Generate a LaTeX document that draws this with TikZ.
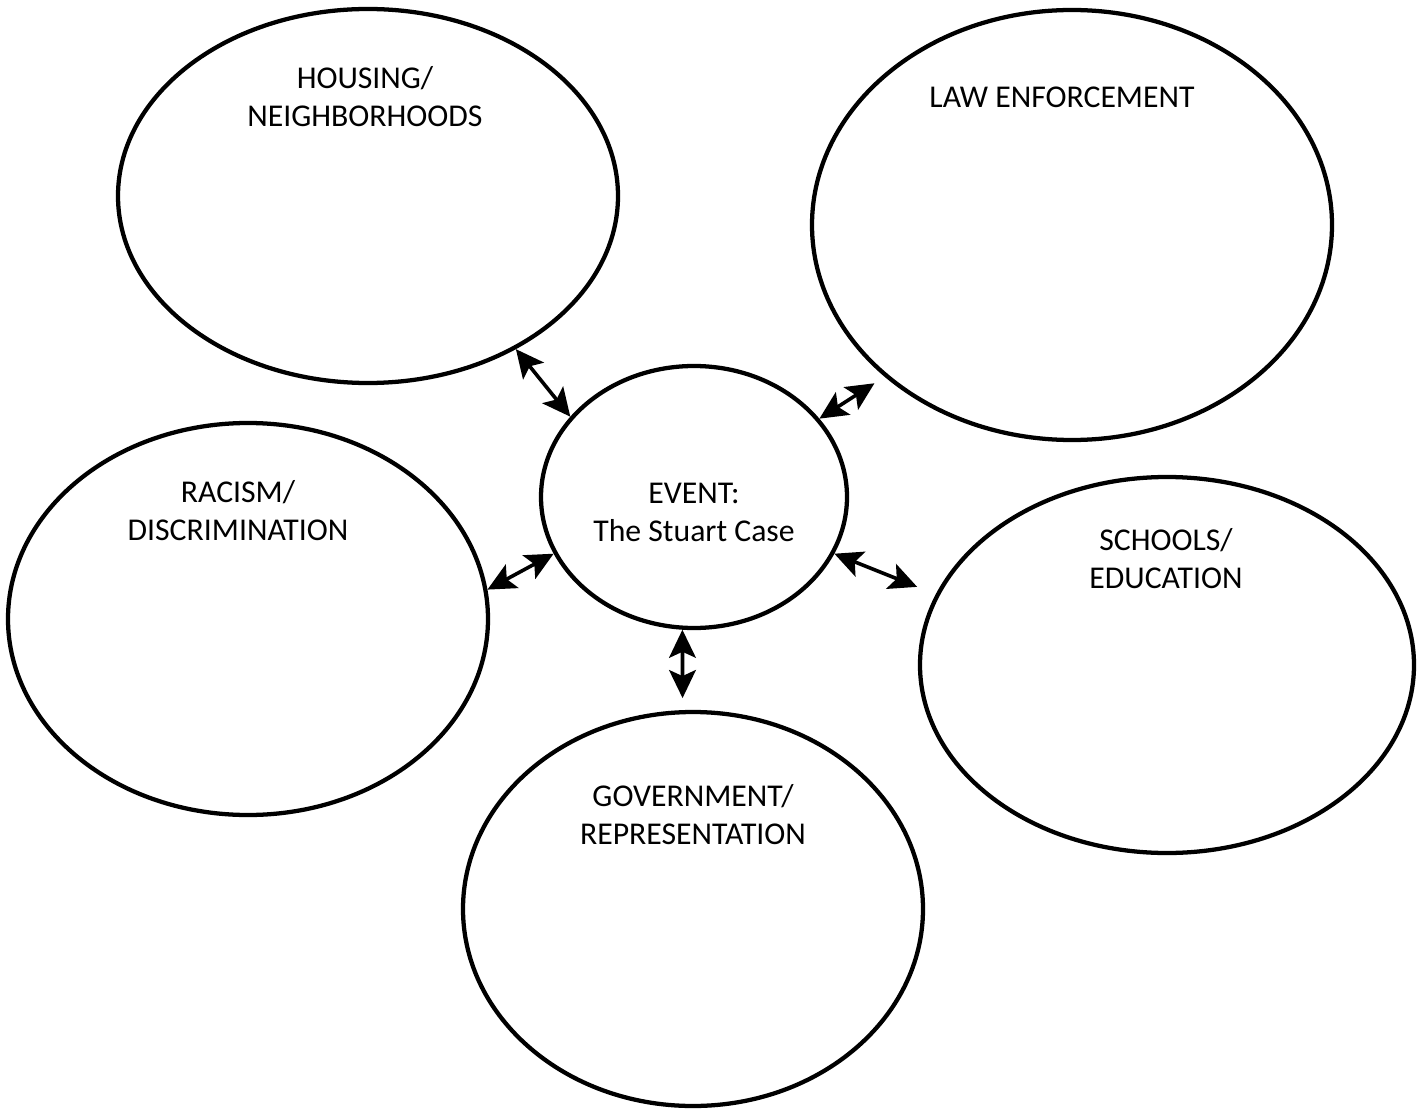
\documentclass[tikz,border=0pt]{standalone}
\usepackage{fontspec}
\setmainfont{Carlito}
\usetikzlibrary{shapes.geometric,arrows.meta}

\tikzset{every picture/.style={line width=0.75pt}}
\tikzset{
	bubble/.style 2 args={ellipse, draw, line width=3.2pt, minimum width=#1, minimum height=#2, inner sep=0pt},
	topic/.style={anchor=center, inner sep=0.75pt, align=center, font=\fontsize{23.8}{28.5}\selectfont},
	link/.style={line width=2.7pt, {Stealth[length=21pt,width=20pt,inset=4.5pt]}-{Stealth[length=21pt,width=20pt,inset=4.5pt]}}
}

\begin{document}
\begin{tikzpicture}[x=0.75pt,y=0.75pt,yscale=-1,xscale=1]
	\useasboundingbox (0,0) rectangle (1421,1109);
	
	%Shape: Ellipse [housing]
	\node[bubble={375pt}{280.5pt}] (housing) at (368,196) {};
	%Shape: Ellipse [law]
	\node[bubble={390pt}{322.5pt}] (law) at (1072,225) {};
	%Shape: Ellipse [racism]
	\node[bubble={360pt}{294pt}] (racism) at (248,619) {};
	%Shape: Ellipse [event]
	\node[bubble={229.5pt}{196.5pt}] (event) at (694,497) {};
	%Shape: Ellipse [schools]
	\node[bubble={370.5pt}{282pt}] (schools) at (1167,665) {};
	%Shape: Ellipse [government]
	\node[bubble={345pt}{295.5pt}] (government) at (693,909) {};
	
	%Straight Lines [event - housing]
	\draw[link] (event.147) -- (housing.-46);
	%Straight Lines [event - law]
	\draw[link, shorten >=9pt] (event.32) -- (law.219);
	%Straight Lines [event - racism]
	\draw[link] (event.202) -- (racism.7);
	%Straight Lines [event - schools]
	\draw[link, shorten >=15pt] (event.-22) -- (schools.163);
	%Straight Lines [event - government]
	\draw[link, shorten >=9pt] (event.265) -- (government.93);
	
	% Text Node
	\node[topic] (housingtxt) at (365,97) {HOUSING/\\NEIGHBORHOODS};
	% Text Node
	\node[topic] (lawtxt) at (1062,97) {LAW ENFORCEMENT};
	% Text Node
	\node[topic] (racismtxt) at (238,511) {RACISM/\\DISCRIMINATION};
	% Text Node
	\node[topic] (eventtxt) at (694,512) {EVENT:\\The Stuart Case};
	% Text Node
	\node[topic] (schoolstxt) at (1166,559) {SCHOOLS/\\EDUCATION};
	% Text Node
	\node[topic] (governmenttxt) at (693,815) {GOVERNMENT/\\REPRESENTATION};
	
\end{tikzpicture}
\end{document}
